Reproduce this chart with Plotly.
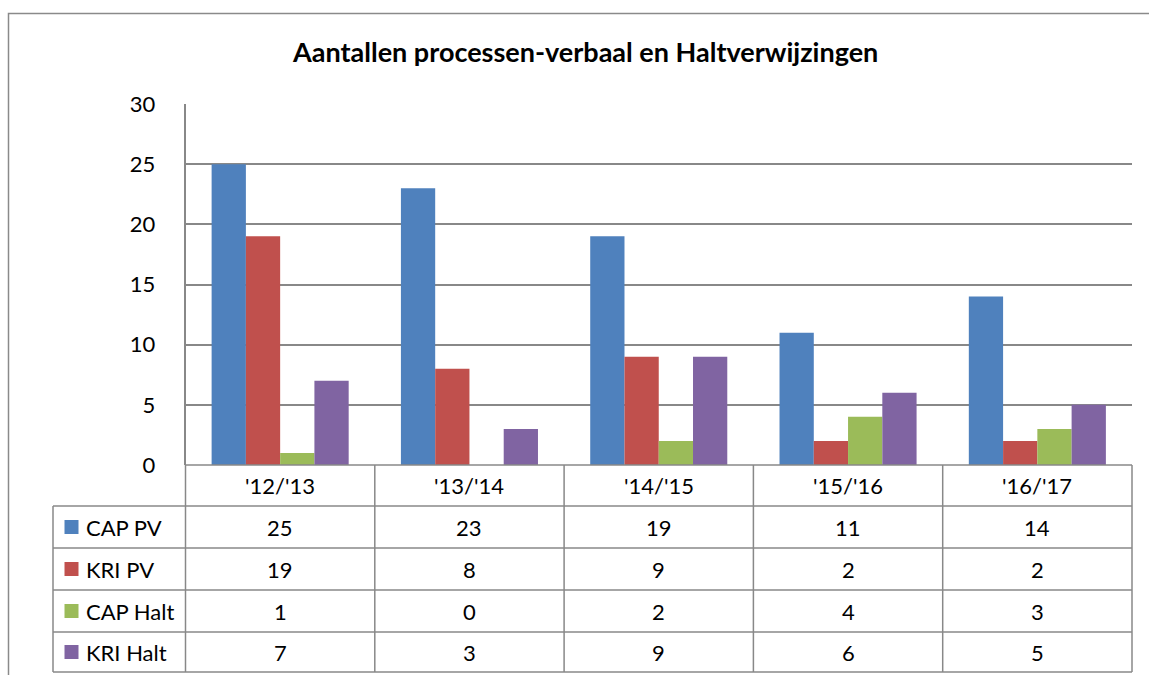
import plotly.graph_objects as go

categories = ["'12/'13", "'13/'14", "'14/'15", "'15/'16", "'16/'17"]
series_names = ["CAP PV", "KRI PV", "CAP Halt", "KRI Halt"]
cap_pv = [25, 23, 19, 11, 14]
kri_pv = [19, 8, 9, 2, 2]
cap_halt = [1, 0, 2, 4, 3]
kri_halt = [7, 3, 9, 6, 5]
series_values = [cap_pv, kri_pv, cap_halt, kri_halt]
colors = ["#4F81BD", "#C0504D", "#9BBB59", "#8064A2"]
title_text = "Aantallen processen-verbaal en Haltverwijzingen"

W, H = 1149, 675
def px(x):
    return x / W
def py(y):
    return 1 - y / H

FONT = "Lato"
GRID = "#888888"
FS = 22

plot_l, plot_r = 185.5, 1132.0
plot_t, plot_b = 104.0, 465.0
table_l = 53.0
row_lines = [465.0, 506.0, 548.0, 590.0, 632.0, 672.0]

fig = go.Figure()
for name, vals, col in zip(series_names, series_values, colors):
    fig.add_trace(go.Bar(x=categories, y=vals, name=name, marker=dict(color=col, line=dict(width=0))))

shapes = []
shapes.append(dict(type="rect", xref="paper", yref="paper", x0=px(8.5), x1=px(1160), y0=py(690), y1=py(13.5),
                   line=dict(color="#8a8a8a", width=1.5), fillcolor="rgba(0,0,0,0)", layer="below"))
for i, y in enumerate(row_lines):
    x0 = plot_l if i == 0 else table_l
    shapes.append(dict(type="line", xref="paper", yref="paper", x0=px(x0), x1=px(plot_r), y0=py(y), y1=py(y),
                       line=dict(color=GRID, width=1.5)))
shapes.append(dict(type="line", xref="paper", yref="paper", x0=px(table_l), x1=px(table_l), y0=py(row_lines[1]), y1=py(row_lines[-1]),
                   line=dict(color=GRID, width=1.5)))
n = len(categories)
col_w = (plot_r - plot_l) / n
for i in range(n + 1):
    x = plot_l + i * col_w
    shapes.append(dict(type="line", xref="paper", yref="paper", x0=px(x), x1=px(x), y0=py(row_lines[0]), y1=py(row_lines[-1]),
                       line=dict(color=GRID, width=1.5)))

annotations = []
annotations.append(dict(text="<b>" + title_text + "</b>", x=px(585), y=py(52), xref="paper", yref="paper",
                        showarrow=False, font=dict(family=FONT, size=27, color="black"), xanchor="center", yanchor="middle"))
for i, c in enumerate(categories):
    annotations.append(dict(text=c, x=px(plot_l + (i + 0.5) * col_w), y=py((row_lines[0] + row_lines[1]) / 2),
                            xref="paper", yref="paper", showarrow=False, font=dict(family=FONT, size=FS, color="black"),
                            xanchor="center", yanchor="middle"))
for r, (name, vals, col) in enumerate(zip(series_names, series_values, colors)):
    yc = (row_lines[r + 1] + row_lines[r + 2]) / 2
    shapes.append(dict(type="rect", xref="paper", yref="paper", x0=px(64.5), x1=px(78.5), y0=py(yc + 7), y1=py(yc - 7),
                       fillcolor=col, line=dict(width=0)))
    annotations.append(dict(text=name, x=px(84), y=py(yc), xref="paper", yref="paper", showarrow=False,
                            font=dict(family=FONT, size=FS, color="black"), xanchor="left", yanchor="middle"))
    for i, v in enumerate(vals):
        annotations.append(dict(text=str(v), x=px(plot_l + (i + 0.5) * col_w), y=py(yc), xref="paper", yref="paper",
                                showarrow=False, font=dict(family=FONT, size=FS, color="black"),
                                xanchor="center", yanchor="middle"))

fig.update_layout(
    width=W, height=H, autosize=False, margin=dict(l=0, r=0, t=0, b=0, pad=0),
    paper_bgcolor="white", plot_bgcolor="white",
    barmode="group", bargap=0.276, bargroupgap=0,
    showlegend=False,
    shapes=shapes, annotations=annotations,
    xaxis=dict(domain=[px(plot_l), px(plot_r)], showticklabels=False, showgrid=False, zeroline=False,
               showline=False, ticks="", automargin=False),
    yaxis=dict(domain=[py(plot_b), py(plot_t)], range=[0, 30], dtick=5, showgrid=True, gridcolor=GRID, gridwidth=1.5,
               zeroline=False, showline=True, linecolor=GRID, linewidth=1.5, ticks="", automargin=False,
               ticklabelstandoff=24, tickfont=dict(family=FONT, size=FS, color="black")),
)

fig.write_html("out.html", config={"displayModeBar": False},
               post_script="document.body.style.margin='0';document.body.style.overflow='hidden';")
